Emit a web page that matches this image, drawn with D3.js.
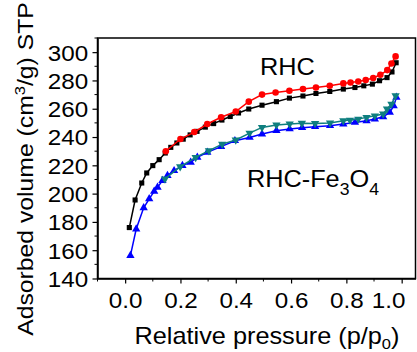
<!DOCTYPE html>
<html>
<head>
<meta charset="utf-8">
<script src="https://cdn.jsdelivr.net/npm/d3@7"></script>
<style>
    body { margin: 0; background: #fff; }
    svg { display: block; font-family: Arial, "Liberation Sans", sans-serif; }
</style>
</head>
<body>
<svg id="chart" width="417" height="352"></svg>
<script>
// RHC adsorption (black squares)
const rhcAdsP = [0.015, 0.036, 0.06, 0.078, 0.1, 0.123, 0.145, 0.165, 0.187, 0.21, 0.235, 0.26, 0.29, 0.32, 0.35, 0.38, 0.41, 0.447, 0.495, 0.547, 0.594, 0.643, 0.69, 0.74, 0.789, 0.831, 0.863, 0.894, 0.92, 0.947, 0.965, 0.98];
const rhcAdsV = [176, 195.5, 207.5, 214.6, 219.8, 224, 228.7, 232.7, 235.8, 238.5, 241.5, 244, 247, 249.5, 252, 254.5, 257, 259.8, 262.5, 265, 267.5, 269, 270.8, 272.2, 273.9, 275, 276.2, 277.4, 279.8, 282, 286, 292.5];
// RHC desorption (red circles)
const rhcDesP = [0.147, 0.2, 0.25, 0.297, 0.347, 0.4, 0.447, 0.495, 0.544, 0.594, 0.643, 0.69, 0.74, 0.789, 0.815, 0.843, 0.87, 0.897, 0.923, 0.948, 0.963, 0.978];
const rhcDesV = [230, 238.6, 243.5, 249.2, 254, 258, 265, 270, 271.5, 272.7, 273.9, 275, 276.2, 277.9, 278.5, 279.3, 280.3, 281.7, 284, 287.3, 292, 297];
// RHC-Fe3O4 adsorption (blue triangles)
const feAdsP = [0.019, 0.04, 0.067, 0.087, 0.105, 0.117, 0.135, 0.153, 0.177, 0.207, 0.237, 0.261, 0.297, 0.347, 0.397, 0.45, 0.495, 0.547, 0.595, 0.64, 0.687, 0.741, 0.789, 0.831, 0.873, 0.903, 0.933, 0.957, 0.971, 0.981];
const feAdsV = [156.2, 175, 190, 196.3, 201.6, 204.4, 209.2, 212.7, 216.2, 219.8, 222.1, 225.6, 229.2, 233.2, 237.4, 239.7, 242.1, 244.5, 245.7, 246.6, 247.3, 248, 249.2, 250.3, 251.5, 252.7, 254.3, 257.4, 262, 268];
// RHC-Fe3O4 desorption (teal down triangles)
const feDesP = [0.144, 0.199, 0.255, 0.303, 0.351, 0.4, 0.45, 0.495, 0.547, 0.595, 0.639, 0.687, 0.741, 0.789, 0.813, 0.843, 0.873, 0.903, 0.933, 0.947, 0.963, 0.978];
const feDesV = [210.4, 219, 225.6, 230.4, 235, 237.9, 242.8, 246.8, 248.5, 249.2, 249.8, 249.6, 249.9, 251.5, 252, 252.7, 253.9, 255, 256.3, 259.8, 263.3, 269.2];

const xTicks = [0.0, 0.2, 0.4, 0.6, 0.8, 1.0];
const yTicks = [140, 160, 180, 200, 220, 240, 260, 280, 300];

const svg = d3.select("#chart");
const mLeft = 97.5, mRight = 415.5, mTop = 38, mBottom = 278.5;
const wide = 1.1; // reference font runs a bit wider than Arial

const x = d3.scaleLinear().domain([-0.1, 1.05]).range([mLeft, mRight]);
const y = d3.scaleLinear().domain([140, 310]).range([mBottom, mTop]);

// frame
svg.append("rect")
    .attr("x", mLeft).attr("y", mTop)
    .attr("width", mRight - mLeft).attr("height", mBottom - mTop)
    .attr("fill", "none").attr("stroke", "#000").attr("stroke-width", 1.5);

// minor ticks
const xMinor = d3.range(-0.1, 1.051, 0.1).filter(v => xTicks.every(t => Math.abs(t - v) > 1e-6));
const yMinor = d3.range(150, 311, 20);

const xAxis = svg.append("g").attr("transform", `translate(0,${mBottom})`)
    .call(d3.axisBottom(x).tickValues(xTicks).tickFormat(d3.format(".1f")).tickSize(5).tickSizeOuter(0));
xAxis.append("g").selectAll("line").data(xMinor).join("line")
    .attr("x1", d => x(d)).attr("x2", d => x(d)).attr("y1", 0).attr("y2", 3)
    .attr("stroke", "#000");

const yAxis = svg.append("g").attr("transform", `translate(${mLeft},0)`)
    .call(d3.axisLeft(y).tickValues(yTicks).tickSize(5).tickSizeOuter(0));
yAxis.append("g").selectAll("line").data(yMinor).join("line")
    .attr("y1", d => y(d)).attr("y2", d => y(d)).attr("x1", 0).attr("x2", -3)
    .attr("stroke", "#000");

[xAxis, yAxis].forEach(a => {
    a.select(".domain").attr("stroke-width", 1.5);
    a.selectAll(".tick line").attr("stroke-width", 1.2);
    a.selectAll("text").attr("font-family", "Arial, 'Liberation Sans', sans-serif")
        .attr("font-size", 22).attr("fill", "#000")
        .attr("transform", `scale(${wide},1)`);
});
xAxis.selectAll(".tick text").attr("y", 29.5).attr("dy", 0);
// last label is pushed in so it stays inside the picture
xAxis.selectAll(".tick text").filter(d => d === 1.0)
    .attr("text-anchor", "end").attr("x", 3);
yAxis.selectAll(".tick text").attr("x", -8.5).attr("dy", "0.36em");

// series
const series = [
    { p: rhcAdsP, v: rhcAdsV, color: "#000000", sym: d3.symbolSquare, size: 26, rot: 0 },
    { p: feAdsP, v: feAdsV, color: "#0000ff", sym: d3.symbolTriangle, size: 30, rot: 0 },
    { p: rhcDesP, v: rhcDesV, color: "#ff0000", sym: d3.symbolCircle, size: 34, rot: 0 },
    { p: feDesP, v: feDesV, color: "#0f7f7f", sym: d3.symbolTriangle, size: 30, rot: 180 }
];

const line = d3.line().x(d => x(d[0])).y(d => y(d[1]));

series.forEach(s => {
    const pts = s.p.map((p, i) => [p, s.v[i]]);
    const g = svg.append("g");
    g.append("path").datum(pts)
        .attr("d", line)
        .attr("fill", "none").attr("stroke", s.color).attr("stroke-width", 1.5);
    g.selectAll("path.m").data(pts).join("path")
        .attr("class", "m")
        .attr("d", d3.symbol().type(s.sym).size(s.size))
        .attr("transform", d => `translate(${x(d[0])},${y(d[1])}) rotate(${s.rot})`)
        .attr("fill", s.color);
});

// labels
svg.append("text").attr("transform", `translate(260,75) scale(${wide},1)`)
    .attr("font-size", 23).text("RHC");

const lab2 = svg.append("text").attr("transform", `translate(247,187) scale(${wide},1)`)
    .attr("font-size", 23);
lab2.append("tspan").text("RHC-Fe");
lab2.append("tspan").attr("font-size", 16).attr("dy", 8).text("3");
lab2.append("tspan").attr("dy", -8).text("O");
lab2.append("tspan").attr("font-size", 16).attr("dy", 8).text("4");

const xl = svg.append("text").attr("transform", `translate(267,344) scale(${wide},1)`)
    .attr("text-anchor", "middle").attr("font-size", 23);
xl.append("tspan").text("Relative pressure (p/p");
xl.append("tspan").attr("font-size", 15).attr("dy", 5).text("0");
xl.append("tspan").attr("dy", -5).text(")");

const yl = svg.append("text")
    .attr("transform", `translate(33,169) rotate(-90) scale(${wide},1)`)
    .attr("text-anchor", "middle").attr("font-size", 22.5);
yl.append("tspan").text("Adsorbed volume (cm");
yl.append("tspan").attr("font-size", 15).attr("dy", -8).text("3");
yl.append("tspan").attr("dy", 8).text("/g) STP");
</script>
</body>
</html>
